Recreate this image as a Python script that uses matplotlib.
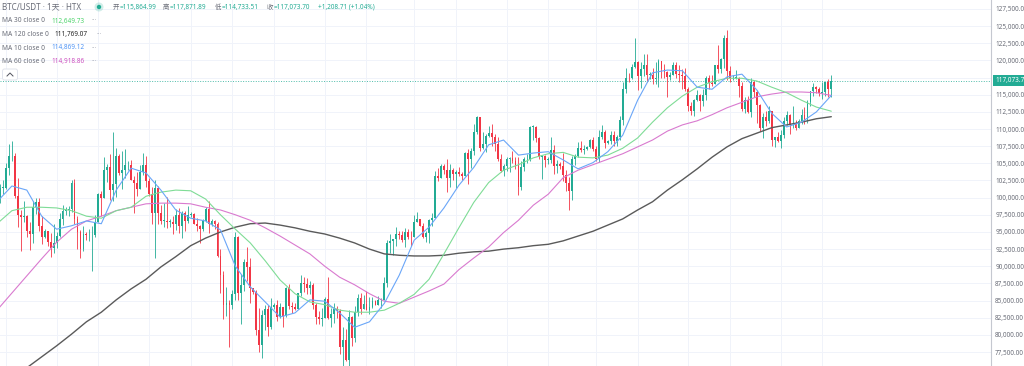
import numpy as np
import pandas as pd
import matplotlib
matplotlib.use('Agg')
import matplotlib.pyplot as plt
from matplotlib.patches import Circle, FancyBboxPatch
from matplotlib.lines import Line2D
from matplotlib.transforms import IdentityTransform, blended_transform_factory

plt.rcParams['font.family'] = ['Noto Sans', 'Noto Sans CJK SC', 'DejaVu Sans']

W, H = 1024, 366
FS = 4.6

# BTC/USDT daily candles on HTX, 2024-12-12 .. 2025-09-18 (thousand USDT)
dates = pd.date_range('2024-12-12', '2025-09-18', freq='D')

opens = [
    101.1, 100.0, 101.4, 101.4, 104.3, 106.0, 106.1, 100.2, 97.5, 97.2,
    97.3, 95.1, 94.7, 98.7, 99.3, 95.8, 94.2, 95.2, 93.6, 92.6,
    93.4, 94.4, 96.9, 98.1, 98.2, 98.3, 102.1, 96.9, 95.0, 92.5,
    94.7, 94.5, 94.5, 94.5, 96.5, 100.5, 99.9, 104.1, 104.4, 101.1,
    102.0, 106.1, 103.6, 104.0, 104.7, 104.7, 102.6, 102.1, 101.3, 103.7,
    104.7, 102.4, 100.6, 97.7, 101.4, 97.8, 96.6, 96.6, 96.5, 96.5,
    96.1, 97.4, 95.8, 97.8, 96.6, 97.5, 97.6, 96.1, 95.8, 95.5,
    96.6, 98.3, 96.1, 96.6, 96.1, 91.5, 88.7, 84.3, 84.7, 84.4,
    86.0, 94.3, 86.1, 87.2, 90.6, 89.9, 86.8, 86.2, 80.7, 78.5,
    82.9, 83.7, 81.1, 84.0, 84.3, 82.6, 84.0, 82.7, 86.8, 84.2,
    84.0, 83.8, 86.1, 87.5, 87.4, 86.9, 87.2, 84.4, 82.6, 82.3,
    82.5, 85.2, 82.5, 83.1, 83.8, 83.5, 78.2, 79.2, 76.3, 82.6,
    79.6, 83.4, 85.3, 83.7, 84.5, 83.6, 84.0, 84.9, 84.4, 85.1,
    85.1, 87.5, 93.4, 93.7, 93.9, 94.7, 94.6, 93.8, 95.0, 94.3,
    94.2, 96.5, 96.9, 95.9, 94.3, 94.8, 96.8, 97.0, 103.2, 102.9,
    104.6, 104.1, 102.8, 104.1, 103.5, 103.7, 103.5, 103.1, 106.5, 105.6,
    106.8, 109.6, 111.7, 107.3, 107.8, 109.0, 109.4, 108.9, 107.8, 105.6,
    103.9, 104.6, 105.7, 105.8, 105.4, 104.7, 101.5, 104.4, 105.6, 105.7,
    110.3, 110.3, 108.7, 105.9, 106.0, 105.5, 105.5, 106.9, 104.6, 104.9,
    104.6, 103.3, 102.2, 100.9, 105.6, 106.0, 107.3, 106.9, 107.1, 107.4,
    108.4, 107.1, 105.7, 108.8, 109.6, 108.0, 108.2, 109.2, 108.3, 108.9,
    111.3, 115.9, 117.5, 117.4, 119.1, 119.8, 117.7, 118.7, 119.3, 117.9,
    117.9, 117.3, 117.4, 119.9, 118.7, 118.3, 117.6, 117.9, 119.4, 118.0,
    117.9, 117.8, 115.8, 113.3, 112.6, 114.2, 115.0, 114.1, 115.0, 117.5,
    116.7, 116.5, 119.3, 118.7, 120.2, 123.3, 118.4, 117.4, 117.5, 117.5,
    116.3, 112.9, 114.3, 112.5, 116.9, 115.4, 113.5, 110.1, 111.8, 111.2,
    112.6, 108.4, 108.8, 108.2, 109.2, 111.2, 112.1, 110.7, 110.7, 110.2,
    111.1, 112.1, 111.5, 113.9, 115.5, 116.1, 115.9, 115.3, 115.4, 116.8,
    115.86,
]
highs = [
    102.5, 102.0, 102.6, 105.1, 107.8, 108.3, 106.5, 102.8, 98.2, 99.5,
    97.4, 96.4, 99.5, 99.9, 99.9, 97.3, 95.5, 95.2, 94.9, 96.2,
    95.0, 97.8, 98.9, 98.7, 98.8, 102.5, 102.7, 97.3, 95.3, 95.8,
    95.0, 95.4, 95.9, 97.4, 100.7, 100.9, 105.9, 104.9, 106.3, 109.6,
    107.2, 106.3, 106.8, 107.1, 105.3, 105.5, 103.2, 103.8, 104.8, 106.5,
    106.0, 102.8, 101.5, 102.5, 101.7, 99.0, 99.2, 100.1, 96.9, 97.3,
    98.3, 98.5, 98.1, 98.0, 98.8, 97.9, 97.7, 97.0, 96.0, 96.9,
    98.7, 99.5, 96.9, 96.7, 96.5, 92.5, 89.3, 87.0, 85.1, 86.5,
    95.0, 94.4, 88.9, 91.0, 92.8, 91.2, 86.9, 86.5, 83.9, 83.6,
    84.4, 84.3, 85.3, 84.7, 85.1, 84.7, 84.0, 87.0, 87.4, 84.8,
    84.6, 86.1, 88.7, 88.5, 88.3, 87.8, 87.5, 84.6, 83.5, 83.9,
    85.5, 88.5, 83.9, 84.7, 84.2, 83.8, 81.2, 80.8, 83.6, 82.7,
    84.2, 85.9, 86.1, 85.8, 86.4, 85.5, 85.5, 85.1, 85.6, 85.3,
    88.5, 93.8, 94.7, 94.0, 95.7, 95.2, 95.2, 95.6, 95.5, 95.2,
    97.4, 97.9, 96.9, 96.3, 95.2, 96.9, 97.7, 103.9, 104.3, 104.9,
    104.9, 105.7, 104.9, 104.3, 104.1, 104.5, 103.7, 106.6, 107.1, 107.3,
    110.8, 111.9, 111.8, 109.5, 109.3, 110.4, 110.7, 109.3, 108.9, 106.3,
    104.9, 105.9, 105.9, 106.8, 105.9, 105.9, 105.4, 105.9, 106.4, 110.4,
    110.6, 110.4, 108.8, 106.2, 106.2, 105.9, 108.9, 107.7, 105.5, 105.2,
    106.5, 104.0, 103.0, 106.1, 106.3, 108.1, 108.3, 107.7, 107.5, 108.5,
    108.8, 107.5, 109.8, 110.6, 109.8, 108.4, 109.7, 109.7, 109.2, 111.9,
    116.8, 118.9, 118.2, 119.5, 123.2, 119.9, 119.8, 120.9, 120.9, 118.3,
    118.9, 119.7, 120.2, 119.9, 119.5, 118.4, 118.3, 119.8, 119.8, 119.3,
    118.8, 118.9, 116.1, 114.0, 114.4, 115.7, 115.1, 115.8, 117.7, 117.9,
    117.9, 119.3, 122.3, 120.3, 123.7, 124.5, 119.2, 117.9, 118.6, 117.6,
    116.8, 114.6, 114.8, 117.4, 117.0, 115.7, 113.7, 112.4, 112.7, 113.4,
    112.7, 108.9, 109.5, 109.9, 111.8, 112.6, 112.2, 113.4, 111.3, 111.4,
    112.9, 113.2, 114.3, 115.5, 116.7, 116.3, 116.1, 116.8, 116.9, 117.3,
    117.87,
]
lows = [
    99.3, 99.2, 100.6, 101.2, 103.3, 105.3, 100.0, 95.7, 92.2, 96.4,
    94.2, 92.4, 93.4, 97.6, 95.2, 93.3, 94.1, 93.0, 91.3, 92.0,
    92.7, 94.2, 96.0, 97.5, 97.3, 97.9, 96.1, 92.5, 91.2, 92.2,
    93.8, 93.7, 89.3, 94.3, 96.5, 97.3, 99.9, 102.3, 99.6, 99.5,
    100.1, 103.3, 101.2, 102.8, 104.1, 102.5, 97.8, 100.3, 101.3, 103.3,
    101.6, 100.3, 96.2, 91.2, 96.2, 96.2, 95.7, 95.6, 95.7, 94.7,
    95.3, 94.9, 94.1, 95.2, 96.3, 97.2, 96.1, 95.2, 93.4, 95.2,
    96.4, 94.9, 95.8, 95.4, 91.4, 86.1, 82.3, 82.8, 78.3, 83.8,
    85.1, 85.1, 81.6, 86.4, 87.8, 84.7, 85.9, 80.0, 77.5, 76.6,
    80.7, 79.9, 80.8, 83.7, 82.0, 82.5, 81.2, 82.6, 83.7, 83.2,
    83.6, 83.7, 85.6, 86.3, 85.9, 85.9, 83.7, 81.6, 81.6, 81.3,
    82.4, 82.3, 81.2, 81.7, 82.4, 77.2, 74.5, 76.2, 74.6, 78.4,
    78.9, 82.8, 83.1, 83.7, 83.6, 83.1, 83.9, 84.3, 84.4, 83.9,
    85.1, 87.0, 91.9, 91.7, 92.9, 93.9, 93.6, 92.8, 93.9, 92.9,
    94.2, 96.4, 95.8, 94.1, 93.5, 93.4, 95.8, 97.0, 102.4, 102.9,
    103.4, 100.8, 101.5, 102.6, 101.4, 103.1, 102.6, 103.1, 102.0, 104.3,
    106.2, 109.3, 106.8, 107.1, 106.7, 108.8, 107.6, 106.8, 105.4, 103.7,
    103.1, 103.9, 103.8, 105.1, 104.2, 100.4, 101.1, 103.9, 105.1, 105.3,
    108.4, 108.1, 105.7, 102.7, 104.5, 104.9, 105.0, 103.4, 103.6, 104.2,
    102.4, 101.0, 98.2, 99.6, 104.7, 105.9, 106.6, 106.4, 106.9, 107.3,
    106.8, 105.3, 105.2, 108.6, 107.3, 107.8, 107.8, 107.5, 107.5, 108.4,
    110.6, 115.3, 116.9, 117.3, 118.9, 115.7, 116.0, 117.8, 116.9, 117.3,
    116.5, 116.5, 116.1, 117.4, 117.4, 114.7, 117.2, 117.9, 117.4, 116.9,
    115.8, 115.5, 112.7, 112.0, 111.9, 114.1, 112.6, 113.4, 114.3, 115.9,
    116.3, 116.5, 118.1, 118.2, 118.9, 117.2, 116.8, 117.2, 117.3, 114.7,
    112.7, 112.4, 112.4, 111.7, 114.6, 110.9, 109.7, 108.7, 110.4, 110.9,
    107.5, 107.4, 108.1, 107.3, 108.7, 110.6, 109.3, 110.2, 109.9, 110.2,
    110.7, 110.8, 110.9, 113.4, 114.8, 115.3, 114.8, 114.4, 114.8, 114.7,
    114.73,
]
closes = [
    100.0, 101.4, 101.4, 104.3, 106.0, 106.1, 100.2, 97.5, 97.2, 97.3,
    95.1, 94.7, 98.7, 99.3, 95.8, 94.2, 95.2, 93.6, 92.6, 93.4,
    94.4, 96.9, 98.1, 98.2, 98.3, 102.1, 96.9, 95.0, 92.5, 94.7,
    94.5, 94.5, 94.5, 96.5, 100.5, 99.9, 104.1, 104.4, 101.1, 102.0,
    106.1, 103.6, 104.0, 104.7, 104.7, 102.6, 102.1, 101.3, 103.7, 104.7,
    102.4, 100.6, 97.7, 101.4, 97.8, 96.6, 96.6, 96.5, 96.5, 96.1,
    97.4, 95.8, 97.8, 96.6, 97.5, 97.6, 96.1, 95.8, 95.5, 96.6,
    98.3, 96.1, 96.6, 96.1, 91.5, 88.7, 84.3, 84.7, 84.4, 86.0,
    94.3, 86.1, 87.2, 90.6, 89.9, 86.8, 86.2, 80.7, 78.5, 82.9,
    83.7, 81.1, 84.0, 84.3, 82.6, 84.0, 82.7, 86.8, 84.2, 84.0,
    83.8, 86.1, 87.5, 87.4, 86.9, 87.2, 84.4, 82.6, 82.3, 82.5,
    85.2, 82.5, 83.1, 83.8, 83.5, 78.2, 79.2, 76.3, 82.6, 79.6,
    83.4, 85.3, 83.7, 84.5, 83.6, 84.0, 84.9, 84.4, 85.1, 85.1,
    87.5, 93.4, 93.7, 93.9, 94.7, 94.6, 93.8, 95.0, 94.3, 94.2,
    96.5, 96.9, 95.9, 94.3, 94.8, 96.8, 97.0, 103.2, 102.9, 104.6,
    104.1, 102.8, 104.1, 103.5, 103.7, 103.5, 103.1, 106.5, 105.6, 106.8,
    109.6, 111.7, 107.3, 107.8, 109.0, 109.4, 108.9, 107.8, 105.6, 103.9,
    104.6, 105.7, 105.8, 105.4, 104.7, 101.5, 104.4, 105.6, 105.7, 110.3,
    110.3, 108.7, 105.9, 106.0, 105.5, 105.5, 106.9, 104.6, 104.9, 104.6,
    103.3, 102.2, 100.9, 105.6, 106.0, 107.3, 106.9, 107.1, 107.4, 108.4,
    107.1, 105.7, 108.8, 109.6, 108.0, 108.2, 109.2, 108.3, 108.9, 111.3,
    115.9, 117.5, 117.4, 119.1, 119.8, 117.7, 118.7, 119.3, 117.9, 117.9,
    117.3, 117.4, 119.9, 118.7, 118.3, 117.6, 117.9, 119.4, 118.0, 117.9,
    117.8, 115.8, 113.3, 112.6, 114.2, 115.0, 114.1, 115.0, 117.5, 116.7,
    116.5, 119.3, 118.7, 120.2, 123.3, 118.4, 117.4, 117.5, 117.5, 116.3,
    112.9, 114.3, 112.5, 116.9, 115.4, 113.5, 110.1, 111.8, 111.2, 112.6,
    108.4, 108.8, 108.2, 109.2, 111.2, 112.1, 110.7, 110.7, 110.2, 111.1,
    112.1, 111.5, 113.9, 115.5, 116.1, 115.9, 115.3, 115.4, 116.8, 115.86,
    117.07,
]

# moving averages at every 5th candle (thousand USDT)
ma_pos = list(range(0, 281, 5))
ma10 = [
    99.4, 101.7, 101.1, 97.3, 95.4, 95.9, 96.6, 96.2, 101.1, 104.3,
    103.6, 101.1, 98.2, 97.0, 96.6, 95.3, 90.0, 87.0, 84.8, 82.6,
    83.2, 85.1, 84.9, 83.2, 81.1, 81.9, 84.6, 88.7, 93.8, 95.7,
    98.5, 101.8, 104.4, 107.7, 108.4, 106.2, 106.5, 106.7, 105.5, 104.2,
    105.1, 106.7, 109.1, 114.2, 118.2, 118.6, 118.5, 116.1, 115.8, 117.6,
    118.0, 115.7, 112.3, 110.3, 111.0, 112.5, 114.9,
]
ma30 = [
    96.2, 98.1, 98.6, 98.6, 98.5, 98.1, 97.3, 97.0, 98.1, 98.6,
    100.2, 100.8, 101.1, 101.0, 99.8, 97.5, 95.4, 93.4, 90.8, 88.0,
    86.0, 84.8, 84.4, 83.6, 83.3, 83.3, 83.6, 84.6, 85.9, 88.1,
    91.8, 95.6, 99.3, 102.2, 104.0, 104.8, 105.8, 106.4, 106.6, 105.9,
    105.8, 106.2, 107.2, 108.7, 111.0, 113.1, 114.8, 116.1, 116.9, 117.4,
    117.4, 117.0, 116.1, 115.3, 114.2, 113.2, 112.6,
]
ma60 = [
    83.6, 86.1, 88.6, 91.1, 93.5, 95.4, 96.6, 97.3, 98.1, 98.6,
    99.1, 99.2, 99.2, 99.1, 98.6, 98.2, 97.5, 96.7, 95.6, 94.4,
    93.1, 91.8, 90.0, 88.4, 87.3, 86.0, 84.9, 84.6, 85.5, 86.4,
    87.4, 89.5, 91.2, 92.8, 94.9, 96.7, 98.9, 100.5, 102.9, 104.0,
    104.8, 105.6, 106.4, 107.4, 108.4, 109.7, 110.6, 111.2, 112.1, 113.1,
    113.9, 114.7, 115.1, 115.4, 115.4, 115.3, 114.9,
]
ma120 = [
    71.8, 73.4, 75.2, 76.8, 78.4, 80.1, 81.9, 83.3, 85.1, 86.7,
    88.1, 89.9, 91.4, 93.0, 94.1, 95.0, 95.7, 96.2, 96.3, 96.0,
    95.6, 95.1, 94.7, 94.1, 93.4, 92.5, 91.8, 91.6, 91.5, 91.5,
    91.6, 91.9, 92.1, 92.2, 92.5, 92.7, 93.0, 93.2, 93.7, 94.4,
    95.1, 96.0, 96.9, 98.2, 99.4, 101.1, 102.6, 104.2, 105.9, 107.4,
    108.6, 109.4, 110.2, 110.6, 111.0, 111.5, 111.8,
]

yticks = list(range(77500, 127501, 2500))
last_price = 117073.70

GREEN = '#22ab94'
RED = '#f23645'
C10, C30, C60, C120 = '#4f94f5', '#4cd36b', '#cc4fbf', '#222222'
L10, L30, L60, L120 = '#6aa6f8', '#7fdc96', '#d97acf', '#5a5a5a'
GRAY = '#6a6d78'

fig = plt.figure(figsize=(W / 100, H / 100), dpi=100)
ax = fig.add_axes([0, 0, 991 / W, 1])

x = np.arange(len(closes))
o = np.array(opens) * 1000
h = np.array(highs) * 1000
l = np.array(lows) * 1000
c = np.array(closes) * 1000
col = np.where(c >= o, GREEN, RED)

ax.vlines(x, l, h, colors=col, lw=0.6, zorder=3)
ax.bar(x, np.maximum(np.abs(c - o), 100), 0.62, bottom=np.minimum(o, c),
       color=col, lw=0, zorder=3)

for vals, colr, lw in [(ma120, L120, 1.0), (ma60, L60, 0.8),
                       (ma30, L30, 0.8), (ma10, L10, 0.8)]:
    ax.plot(ma_pos, np.array(vals) * 1000, color=colr, lw=lw, zorder=4,
            solid_capstyle='round')

ax.axhline(last_price, color=GREEN, lw=0.7, ls=(0, (1, 1.6)), alpha=0.8, zorder=2)

ax.set_xlim(1.0, 333.6)
ax.set_ylim(75460, 128810)

# grid
ax.set_yticks(yticks)
ax.set_yticklabels([f'{v:,.2f}' for v in yticks])
grid_x = [i for i, d in enumerate(dates) if d.day in (1, 15)]
ax.set_xticks(grid_x)
ax.tick_params(axis='x', length=0, labelbottom=False)
ax.grid(True, color='#f0f3fa', lw=0.7, zorder=0)
ax.set_axisbelow(True)

ax.yaxis.tick_right()
ax.tick_params(axis='y', length=0, pad=3, labelsize=FS, labelcolor=GRAY)
for s in ['top', 'left', 'bottom']:
    ax.spines[s].set_visible(False)
ax.spines['right'].set_color('#c5c8d0')
ax.spines['right'].set_linewidth(0.8)

# last price tag
tr = blended_transform_factory(ax.transAxes, ax.transData)
ax.text(1.004, last_price, f'{last_price:,.2f}', transform=tr, ha='left', va='center',
        fontsize=FS, color='white', fontweight='bold', zorder=10, clip_on=False,
        bbox=dict(boxstyle='square,pad=0.35', fc=GREEN, ec='none'))


def ftxt(px, py, s, color=GRAY, size=FS, **kw):
    fig.text(px / W, 1 - py / H, s, ha='left', va='center', fontsize=size,
             color=color, **kw)


# header line
ftxt(2, 7, 'BTC/USDT · 1天 · HTX', size=5.8)
fig.add_artist(Circle((99, H - 7), 4.5, transform=IdentityTransform(),
                      fc=GREEN, alpha=0.2, lw=0))
fig.add_artist(Circle((99, H - 7), 2.2, transform=IdentityTransform(),
                      fc=GREEN, lw=0))
ohlc = [('开', 113, '=115,864.99'), ('高', 163, '=117,871.89'),
        ('低', 215, '=114,733.51'), ('收', 267, '=117,073.70')]
for lab, px, val in ohlc:
    ftxt(px, 7, lab)
    ftxt(px + 6.5, 7, val, color=GREEN)
ftxt(318, 7, '+1,208.71 (+1.04%)', color=GREEN)

# indicator legend
legend_rows = [('MA 30 close 0', '112,649.73', C30, 21, 51, 92),
               ('MA 120 close 0', '111,769.07', C120, 34.5, 54, 97),
               ('MA 10 close 0', '114,869.12', C10, 48, 51, 92),
               ('MA 60 close 0', '114,918.86', C60, 61.5, 51, 92)]
for name, val, colr, py, vx, dx in legend_rows:
    ftxt(2, py, name, size=4.8)
    ftxt(vx, py, val, color=colr, fontweight='bold')
    ftxt(dx, py, '···', color='#b2b5be', fontweight='bold')

fig.add_artist(FancyBboxPatch((2.5, H - 80), 15, 11, transform=IdentityTransform(),
                              boxstyle='round,pad=0,rounding_size=2',
                              fc='white', ec='#e0e3eb', lw=0.7))
fig.add_artist(Line2D([7, 10, 13], [H - 76, H - 73, H - 76],
                      transform=IdentityTransform(), color='#50535e', lw=0.7))

fig.savefig('out.png', dpi=100)
